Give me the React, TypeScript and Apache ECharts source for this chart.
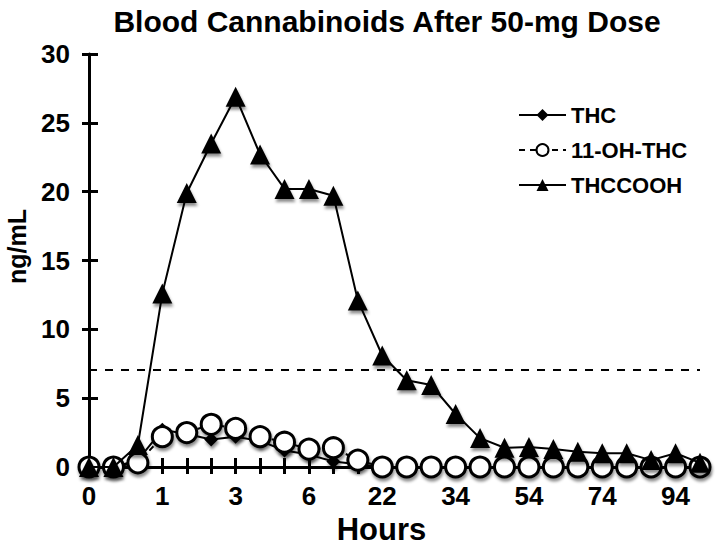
import React, { useEffect, useRef } from "react";
import * as echarts from "echarts";

// Sampling times (hours); only every third one is labelled on the axis
const hours = ["0", "0.25", "0.5", "1", "1.5", "2", "3", "4", "5", "6", "8", "10", "22", "26", "30", "34", "42", "48", "54", "62", "68", "74", "80", "86", "94", "100"];

const thc = [0, 0, 0.5, 2.7, 2.4, 2.0, 2.2, 1.9, 1.2, 0.9, 0.4, 0.2, 0, 0, 0, 0, 0, 0, 0, 0, 0, 0, 0, 0, 0, 0];
const ohThc = [0, 0, 0.3, 2.2, 2.5, 3.1, 2.8, 2.2, 1.8, 1.3, 1.4, 0.5, 0, 0, 0, 0, 0, 0, 0, 0, 0, 0, 0, 0, 0, 0];
const thccooh = [0, 0, 1.6, 12.6, 19.9, 23.5, 26.9, 22.7, 20.2, 20.2, 19.7, 12.1, 8.1, 6.3, 5.95, 3.85, 2.1, 1.4, 1.45, 1.3, 1.1, 1.0, 1.0, 0.5, 1.0, 0.3];

const cutoff = 7.1;
const yTicks = { min: 0, max: 30, interval: 5 };

const FONT = "'Liberation Sans', Arial, Helvetica, sans-serif";

export default function App() {
  const ref = useRef<HTMLDivElement>(null);

  useEffect(() => {
    if (!ref.current) return;
    const chart = echarts.init(ref.current, null, { renderer: "svg" });
    const shadow = {
      shadowColor: "rgba(0,0,0,0.45)",
      shadowBlur: 3,
      shadowOffsetX: 1,
      shadowOffsetY: 3,
    };
    const axisLine = { show: true, lineStyle: { color: "#000", width: 3 } };
    chart.setOption({
      animation: false,
      backgroundColor: "#fff",
      textStyle: { fontFamily: FONT },
      title: {
        text: "Blood Cannabinoids After 50-mg Dose",
        left: 382,
        top: 1,
        textAlign: "center",
        textStyle: { fontFamily: FONT, fontWeight: "bold", fontSize: 30, color: "#000" },
      },
      legend: {
        left: 513,
        top: 99,
        orient: "vertical",
        itemWidth: 47,
        itemHeight: 15,
        itemGap: 13,
        textStyle: { fontFamily: FONT, fontWeight: "bold", fontSize: 22, color: "#000" },
        data: ["THC", "11-OH-THC", "THCCOOH"],
      },
      grid: { left: 89, right: 16, top: 54, bottom: 79, containLabel: false, outerBoundsMode: "none" },
      xAxis: [
        {
          type: "category",
          data: hours,
          boundaryGap: false,
          name: "Hours",
          nameLocation: "middle",
          nameGap: 44,
          nameTextStyle: {
            fontFamily: FONT,
            fontWeight: "bold",
            fontSize: 31,
            color: "#000",
            padding: [0, 26, 0, 0],
          },
          axisLine,
          axisTick: { show: true, interval: 0, length: 7, lineStyle: { color: "#000", width: 3 } },
          axisLabel: {
            interval: 2,
            margin: 16,
            color: "#000",
            fontFamily: FONT,
            fontWeight: "bold",
            fontSize: 26,
          },
          splitLine: { show: false },
        },
        {
          type: "category",
          data: hours,
          boundaryGap: false,
          position: "bottom",
          axisLine: { show: false },
          axisTick: { show: true, inside: true, interval: 0, length: 9, lineStyle: { color: "#000", width: 3 } },
          axisLabel: { show: false },
          splitLine: { show: false },
        },
      ],
      yAxis: [
        {
          type: "value",
          ...yTicks,
          name: "ng/mL",
          nameLocation: "middle",
          nameGap: 60,
          nameRotate: 90,
          nameTextStyle: {
            fontFamily: FONT,
            fontWeight: "bold",
            fontSize: 25,
            color: "#000",
            padding: [0, 0, 0, 28],
          },
          axisLine,
          axisTick: { show: true, length: 7, lineStyle: { color: "#000", width: 3 } },
          axisLabel: {
            margin: 19,
            color: "#000",
            fontFamily: FONT,
            fontWeight: "bold",
            fontSize: 26,
          },
          splitLine: { show: false },
        },
        {
          type: "value",
          ...yTicks,
          position: "left",
          axisLine: { show: false },
          axisTick: { show: true, inside: true, length: 9, lineStyle: { color: "#000", width: 3 } },
          axisLabel: { show: false },
          splitLine: { show: false },
        },
      ],
      series: [
        {
          name: "THC",
          type: "line",
          data: thc,
          symbol: "diamond",
          symbolSize: 14,
          showAllSymbol: true,
          lineStyle: { color: "#000", width: 2 },
          itemStyle: { color: "#000", ...shadow },
          z: 2,
        },
        {
          name: "11-OH-THC",
          type: "line",
          data: ohThc,
          symbol: "circle",
          symbolSize: 20,
          showAllSymbol: true,
          lineStyle: { color: "#000", width: 2, type: [6, 5] },
          itemStyle: { color: "#fff", borderColor: "#000", borderWidth: 3, ...shadow },
          markLine: {
            silent: true,
            symbol: "none",
            label: { show: false },
            lineStyle: { color: "#000", width: 2, type: [8, 8] },
            data: [{ yAxis: cutoff }],
          },
          z: 3,
        },
        {
          name: "THCCOOH",
          type: "line",
          data: thccooh,
          symbol: "triangle",
          symbolSize: [20, 20],
          showAllSymbol: true,
          lineStyle: { color: "#000", width: 2 },
          itemStyle: { color: "#000", ...shadow },
          z: 4,
        },
      ],
    });
    return () => chart.dispose();
  }, []);

  return <div ref={ref} style={{ width: 716, height: 546, position: "absolute", left: 0, top: 0 }} />;
}
